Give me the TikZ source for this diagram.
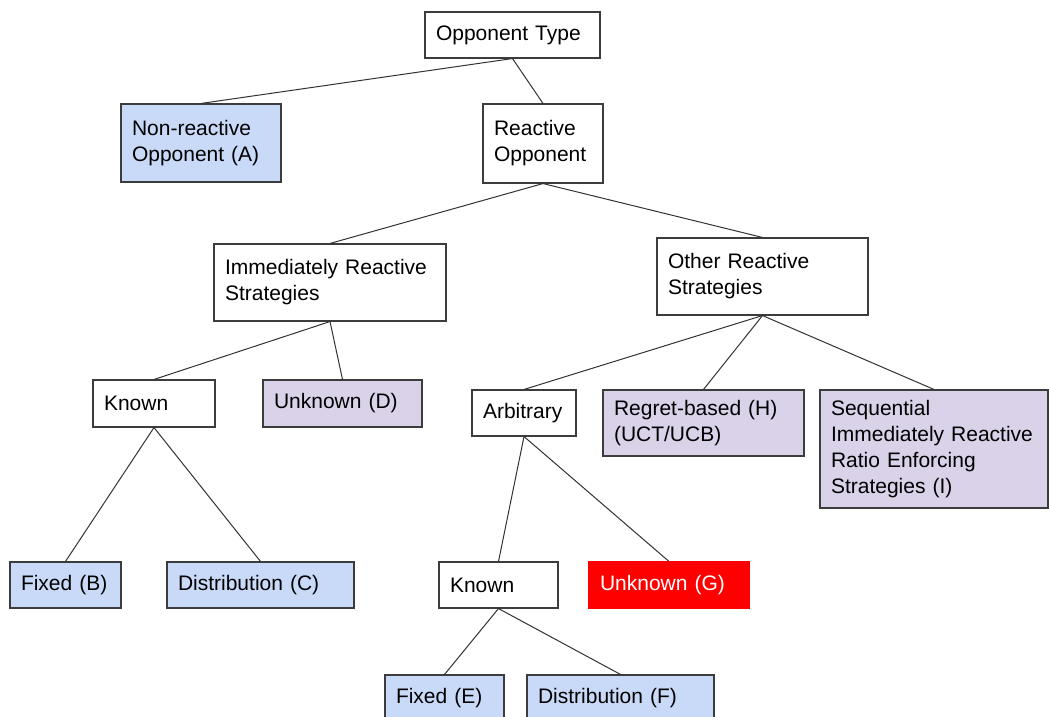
\documentclass[tikz,border=0pt]{standalone}
\usepackage{fontspec}
\setmainfont{Liberation Sans}
\definecolor{Frame}{HTML}{3C3C3C}
\definecolor{Wire}{HTML}{333333}
\definecolor{PaleBlue}{HTML}{C9DAF8}
\definecolor{Lilac}{HTML}{D9D2E9}
\definecolor{Alarm}{HTML}{FF0000}

\begin{document}
\begin{tikzpicture}[
    x=1pt, y=-1pt,
    font=\fontsize{21}{26}\selectfont,
    box/.style={
        draw=Frame,
        line width=1.1pt,
        fill=white,
        align=left,
        inner xsep=11pt,
        inner ysep=0pt,
        minimum height=46pt
    },
    bluebox/.style={
        box,
        fill=PaleBlue
    },
    lilacbox/.style={
        box,
        fill=Lilac
    },
    redbox/.style={
        box,
        draw=Alarm,
        fill=Alarm,
        text=white
    },
    link/.style={
        draw=Wire,
        line width=1pt
    }
]

% Canvas
\clip (0,0) rectangle (1049,717);
\fill[white] (0,0) rectangle (1049,717);

% Root
\node[box, text width=153pt] (type) at (512.5,35) {Opponent Type};

% Level 1
\node[bluebox, text width=138pt, minimum height=78pt] (nonreact) at (201,143)
{Non-reactive\\Opponent (A)};

\node[box, text width=98pt, minimum height=79pt] (react) at (543,143.5)
{Reactive\\Opponent};

% Level 2
\node[box, text width=210pt, minimum height=77pt] (immed) at (330,282.5)
{Immediately Reactive\\Strategies};

\node[box, text width=189pt, minimum height=77pt] (other) at (762.5,276.5)
{Other Reactive\\Strategies};

% Level 3
\node[box, text width=100pt, minimum height=47pt] (knownL) at (154,403.5) {Known};

\node[lilacbox, text width=137pt, minimum height=47pt] (unknownD) at (342.5,403.5) {Unknown (D)};

\node[box, text width=82pt] (arbitrary) at (524,413) {Arbitrary};

\node[lilacbox, text width=179pt, minimum height=66pt] (regret) at (703.5,423)
{Regret-based (H)\\(UCT/UCB)};

\node[lilacbox, text width=206pt, minimum height=118pt] (sequential) at (934,449)
{Sequential\\Immediately Reactive\\Ratio Enforcing\\Strategies (I)};

% Level 4
\node[bluebox, text width=89pt] (fixedB) at (65.5,585) {Fixed (B)};
\node[bluebox, text width=165pt] (distC) at (260.5,585) {Distribution (C)};
\node[box, text width=97pt] (knownR) at (498.5,585) {Known};
\node[redbox, text width=138pt] (unknownG) at (669,585) {Unknown (G)};

% Level 5
\node[bluebox, text width=97pt] (fixedE) at (444.5,698) {Fixed (E)};
\node[bluebox, text width=165pt] (distF) at (620.5,698) {Distribution (F)};

% Connectors
\draw[link] (type.south) -- (nonreact.north);
\draw[link] (type.south) -- (react.north);
\draw[link] (react.south) -- (immed.north);
\draw[link] (react.south) -- (other.north);

\draw[link] (immed.south) -- (knownL.north);
\draw[link] (immed.south) -- (unknownD.north);
\draw[link] (other.south) -- (arbitrary.north);
\draw[link] (other.south) -- (regret.north);
\draw[link] (other.south) -- (sequential.north);

\draw[link] (knownL.south) -- (fixedB.north);
\draw[link] (knownL.south) -- (distC.north);
\draw[link] (arbitrary.south) -- (knownR.north);
\draw[link] (arbitrary.south) -- (unknownG.north);

\draw[link] (knownR.south) -- (fixedE.north);
\draw[link] (knownR.south) -- (distF.north);

\end{tikzpicture}
\end{document}
